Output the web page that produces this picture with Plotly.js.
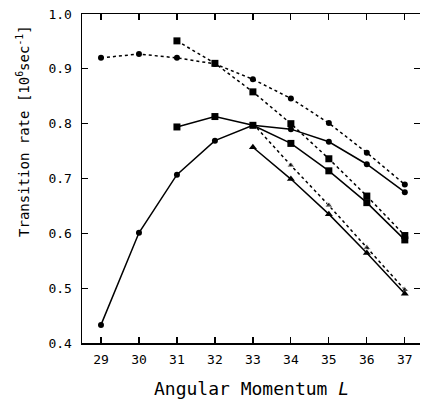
<!DOCTYPE html>
<html><head><meta charset="utf-8">
<script src="https://cdn.plot.ly/plotly-3.0.1.min.js"></script>
<style>html,body{margin:0;padding:0;background:#fff}</style>
</head><body><div id="chart" style="width:424px;height:401px"></div>
<script>
const L_full = [29,30,31,32,33,34,35,36,37];
const L_31 = [31,32,33,34,35,36,37];
const L_33 = [33,34,35,36,37];
const circDotted = [0.920,0.927,0.920,0.909,0.881,0.846,0.801,0.747,0.689];
const circSolid  = [0.433,0.601,0.707,0.769,0.797,0.790,0.767,0.726,0.675];
const sqDotted   = [0.951,0.910,0.858,0.800,0.736,0.668,0.596];
const sqSolid    = [0.794,0.813,0.797,0.764,0.714,0.656,0.588];
const triDotted  = [0.800,0.724,0.651,0.574,0.497];
const triSolid   = [0.757,0.699,0.635,0.564,0.490];
const yTicks = [0.4,0.5,0.6,0.7,0.8,0.9,1.0];

function tr(x,y,dash,sym){
  return {x:x,y:y,type:'scatter',mode:'lines+markers',
    line:{color:'#000',width:1.5,dash:dash},
    marker:{color:'#000',size:sym==='circle'?6:7,symbol:sym},
    showlegend:false,hoverinfo:'skip'};
}
const triDottedTrace = tr(L_33,triDotted,'dot','triangle-up');
triDottedTrace.marker = {color:'#000',size:[0,7,7,7,7],symbol:'triangle-up'};
const data = [
  tr(L_full,circDotted,'dot','circle'),
  tr(L_full,circSolid,'solid','circle'),
  tr(L_31,sqDotted,'dot','square'),
  tr(L_31,sqSolid,'solid','square'),
  triDottedTrace,
  tr(L_33,triSolid,'solid','triangle-up'),
  {x:[29],y:[0.4],type:'scatter',mode:'markers',yaxis:'y2',marker:{opacity:0},showlegend:false,hoverinfo:'skip'}
];
const mono = 'DejaVu Sans Mono, Liberation Mono, monospace';
const layout = {
  width:424,height:401,
  margin:{l:82,r:4,t:14,b:58},
  paper_bgcolor:'#fff',plot_bgcolor:'#fff',
  xaxis:{range:[28.5,37.4],tickvals:L_full,ticktext:L_full.map(String),
    ticks:'inside',ticklen:6,tickwidth:1.2,tickcolor:'#000',
    showline:true,linecolor:'#000',linewidth:1.5,mirror:'ticks',
    showgrid:false,zeroline:false,ticklabelstandoff:4,
    tickfont:{family:mono,size:13,color:'#000'}},
  yaxis:{range:[0.4,1.0],tickvals:yTicks,tickformat:'.1f',
    ticks:'inside',ticklen:6,tickwidth:1.2,tickcolor:'#000',
    showline:true,linecolor:'#000',linewidth:1.5,
    showgrid:false,zeroline:false,ticklabelstandoff:6,
    tickfont:{family:mono,size:13,color:'#000'}},
  yaxis2:{range:[0.4,1.0],tickvals:yTicks,overlaying:'y',side:'right',
    ticks:'inside',ticklen:6,tickwidth:1.2,tickcolor:'#000',
    showline:false,showticklabels:false,showgrid:false,zeroline:false},
  annotations:[
    {text:'Angular Momentum <i>L</i>',xref:'paper',yref:'paper',x:0.5,y:-0.1,
     xanchor:'center',yanchor:'top',showarrow:false,
     font:{family:mono,size:18,color:'#000'}},
    {text:'Transition rate [10<sup>6</sup>sec<sup>-1</sup>]',xref:'paper',yref:'paper',
     x:-0.175,y:0.644,xanchor:'center',yanchor:'middle',textangle:-90,showarrow:false,
     font:{family:mono,size:14,color:'#000'}}
  ]
};
Plotly.newPlot('chart',data,layout,{displayModeBar:false,staticPlot:true});
</script></body></html>
